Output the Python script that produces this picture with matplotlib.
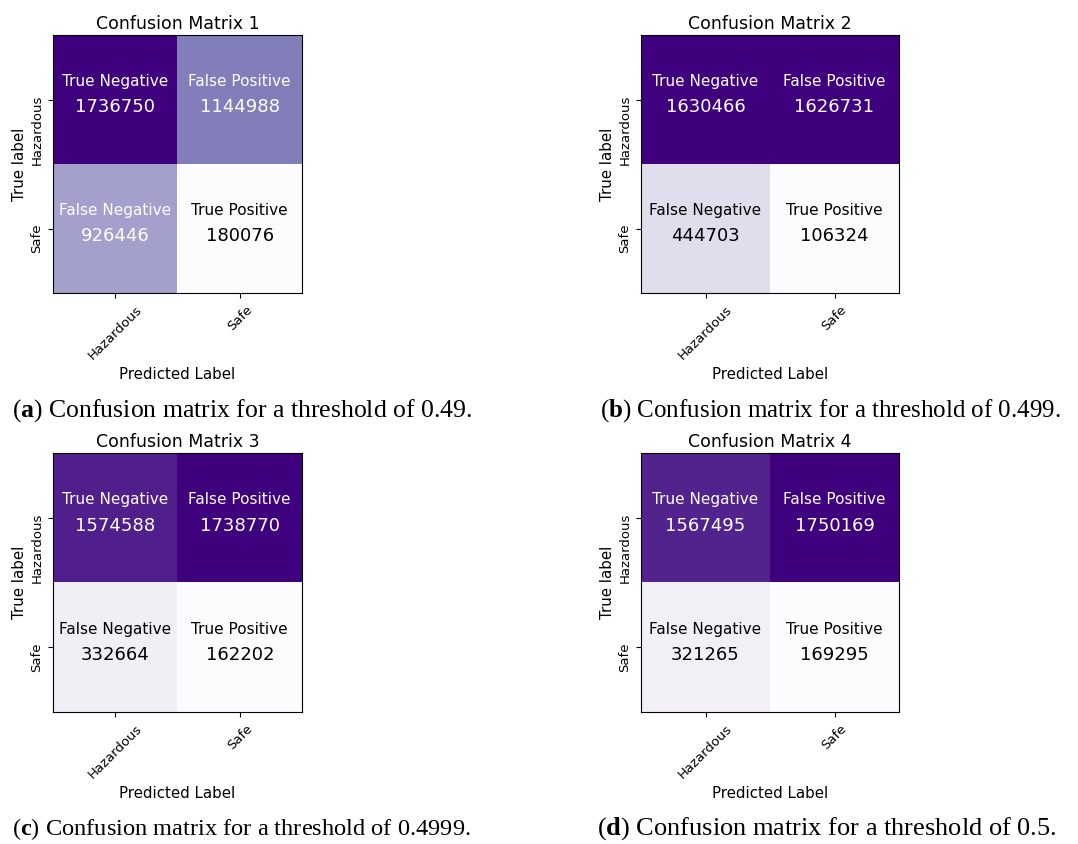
import numpy as np
import matplotlib
matplotlib.use("Agg")
import matplotlib.pyplot as plt

# Class names and cell captions
classes = ["Hazardous", "Safe"]
cell_names = [["True Negative", "False Positive"],
              ["False Negative", "True Positive"]]

# Decision thresholds and confusion-matrix counts for each run
panel_tags = ["a", "b", "c", "d"]
thresholds = ["0.49", "0.499", "0.4999", "0.5"]
true_neg = [1736750, 1630466, 1574588, 1567495]
false_pos = [1144988, 1626731, 1738770, 1750169]
false_neg = [926446, 444703, 332664, 321265]
true_pos = [180076, 106324, 162202, 169295]

plt.rcParams["mathtext.fontset"] = "custom"
plt.rcParams["mathtext.rm"] = "Liberation Serif"
plt.rcParams["mathtext.bf"] = "Liberation Serif:bold"

W, H = 1078, 844
fig = plt.figure(figsize=(W / 100, H / 100), dpi=100)

# panel boxes (pixels): left, top, width, height
boxes = [(53, 35, 249, 258), (641, 35, 258, 258),
         (53, 453, 249, 259), (641, 453, 258, 259)]
# caption anchor (pixels) and the width each caption line spans
caption_xy = [(12, 411), (600, 411), (12, 829), (597, 829)]
caption_w = 460

captions = []
for i in range(4):
    l, t, w, h = boxes[i]
    ax = fig.add_axes([l / W, 1 - (t + h) / H, w / W, h / H])
    cm = np.array([[true_neg[i], false_pos[i]],
                   [false_neg[i], true_pos[i]]])
    ax.imshow(cm, cmap="Purples", aspect="auto", interpolation="nearest")
    ax.set_title(f"Confusion Matrix {i + 1}", fontsize=12.5, pad=4)
    ax.set_xticks(range(len(classes)))
    ax.set_xticklabels(classes, rotation=45, fontsize=9.5)
    ax.set_yticks(range(len(classes)))
    ax.set_yticklabels(classes, rotation=90, fontsize=9.5)
    ax.set_xlabel("Predicted Label", fontsize=10.8)
    ax.set_ylabel("True label", fontsize=10.8, labelpad=2)

    limit = cm.max() / 2
    for r in range(2):
        for c in range(2):
            col = "white" if cm[r, c] > limit else "black"
            ax.text(c, r - 0.14, cell_names[r][c], ha="center", va="center",
                    fontsize=11, color=col)
            ax.text(c, r + 0.06, f"{cm[r, c]}", ha="center", va="center",
                    fontsize=13, color=col)

    cx, cy = caption_xy[i]
    captions.append(fig.text(
        cx / W, 1 - cy / H,
        rf"($\mathbf{{{panel_tags[i]}}}$) Confusion matrix for a threshold of {thresholds[i]}.",
        ha="left", va="center", fontsize=18, family="Liberation Serif"))

# size each caption so its line spans the same width as its panel column
renderer = fig.canvas.get_renderer()
for txt in captions:
    span = txt.get_window_extent(renderer).width
    txt.set_fontsize(txt.get_fontsize() * caption_w / span)

fig.savefig("out.png", dpi=100)
